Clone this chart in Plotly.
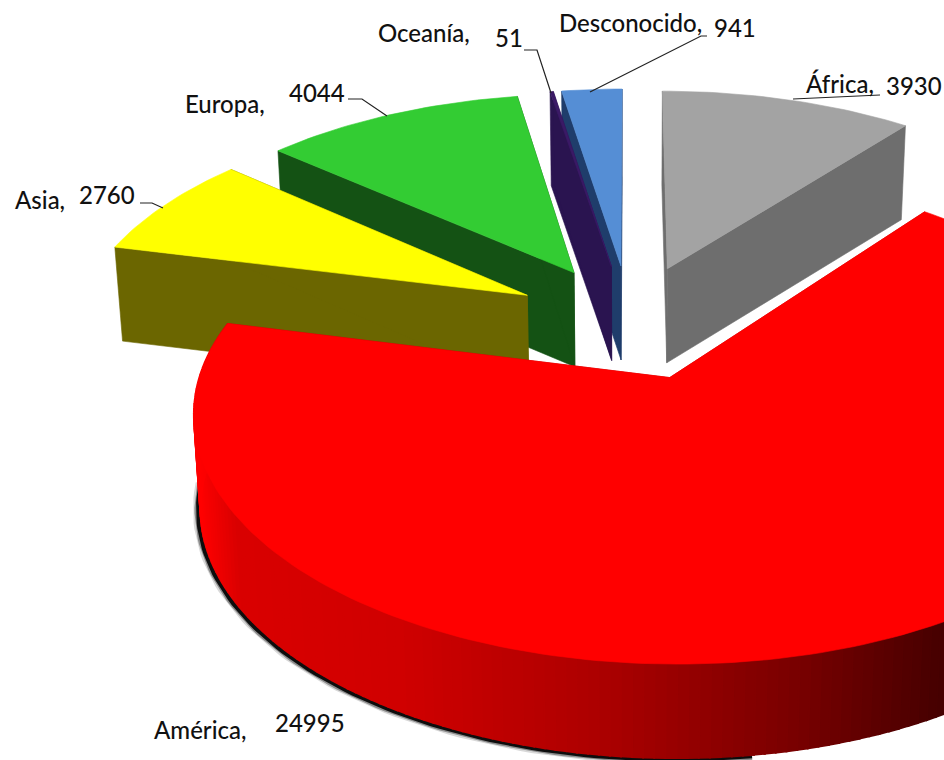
import math
import plotly.graph_objects as go

# Data (clockwise from 12 o'clock)
regions = ["África", "América", "Asia", "Europa", "Oceanía", "Desconocido"]
counts = [3930, 24995, 2760, 4044, 51, 941]
top_colors = ["#a3a3a3", "#ff0000", "#ffff00", "#33cc33", "#3b1a66", "#558ed5"]
side_colors = ["#6e6e6e", "#c00000", "#6b6600", "#145214", "#2a1450", "#1f3d6b"]
draw_order = ["África", "Desconocido", "Oceanía", "Europa", "Asia", "América"]

# Projection of the tilted pie onto the page
CX, CY, F, G, K = 630, 321, 452, 221, 0.1585
EXPLODE = 0.26
THICK = 94
SHRINK = 0.985


def project(X, Y):
    w = 1 + K * Y
    return CX + F * X / w, CY - G * Y / w


def bottom(p):
    return CX + (p[0] - CX) * SHRINK, p[1] + THICK


total = sum(counts)
fig = go.Figure()


def poly(points, color, lw=0.6):
    xs = [p[0] for p in points] + [points[0][0]]
    ys = [p[1] for p in points] + [points[0][1]]
    fig.add_trace(go.Scatter(x=xs, y=ys, mode="lines", fill="toself", fillcolor=color,
                             line=dict(color=color, width=lw), hoverinfo="skip",
                             showlegend=False))


def rim_shade(x):
    stops = [(196, (255, 0, 0)), (235, (218, 0, 0)), (400, (208, 0, 0)), (600, (172, 0, 0)),
             (800, (120, 0, 0)), (944, (70, 0, 0))]
    if x <= stops[0][0]:
        return "rgb(255,0,0)"
    for (x0, c0), (x1, c1) in zip(stops, stops[1:]):
        if x <= x1:
            t = (x - x0) / (x1 - x0)
            return "rgb(%d,%d,%d)" % tuple(a + (b - a) * t for a, b in zip(c0, c1))
    return "rgb(70,0,0)"


spans = {}
a = 0.0
for name, value in zip(regions, counts):
    b = a + 2 * math.pi * value / total
    spans[name] = (a, b)
    a = b

for name in draw_order:
    i = regions.index(name)
    a0, a1 = spans[name]
    mid = (a0 + a1) / 2
    ox, oy = EXPLODE * math.sin(mid), EXPLODE * math.cos(mid)
    n = max(2, int((a1 - a0) / 0.02))
    angles = [a0 + (a1 - a0) * j / n for j in range(n + 1)]
    rim = [project(ox + math.sin(t), oy + math.cos(t)) for t in angles]
    apex = project(ox, oy)
    # cut faces
    poly([apex, rim[0], bottom(rim[0]), bottom(apex)], side_colors[i])
    poly([apex, rim[-1], bottom(rim[-1]), bottom(apex)], side_colors[i])
    # outer wall, front half only
    if name == "América":
        wall_low = [bottom(p) for p in rim]
        front = [j for j, t in enumerate(angles) if math.cos(t) < 0.25]
        shadow = [p for p in wall_low if p[1] > 480 and p[0] < 760]
        for width, alpha in [(11, 0.15), (8, 0.35), (5, 0.9)]:
            fig.add_trace(go.Scatter(x=[p[0] - 2 for p in shadow], y=[p[1] + 1 for p in shadow],
                                     mode="lines", opacity=alpha,
                                     line=dict(color="#000000", width=width),
                                     hoverinfo="skip", showlegend=False))
        for j in front[:-1]:
            seg = [rim[j], rim[j + 1], wall_low[j + 1], wall_low[j]]
            poly(seg, rim_shade((rim[j][0] + rim[j + 1][0]) / 2), lw=2)
    poly([apex] + rim, top_colors[i])

labels = [
    ("Oceanía,", 424, 32), ("51", 509, 37), ("Desconocido,", 630, 22), ("941", 735, 27),
    ("África,", 840, 83), ("3930", 914, 85), ("Europa,", 225, 103), ("4044", 317, 92),
    ("Asia,", 40, 199), ("2760", 107, 194), ("América,", 200, 729), ("24995", 310, 722),
]
for text, x, y in labels:
    fig.add_annotation(x=x, y=y, text=text, showarrow=False, xanchor="center", yanchor="middle",
                       font=dict(family="Lato", size=24, color="#111111", weight=500))

leaders = [
    [(524, 50), (537, 50), (551, 93)],
    [(707, 36), (701, 36), (590, 92)],
    [(793, 99), (860, 96), (880, 95)],
    [(348, 99), (362, 99), (387, 116)],
    [(140, 203), (152, 203), (163, 208)],
]
for pts in leaders:
    fig.add_trace(go.Scatter(x=[p[0] for p in pts], y=[p[1] for p in pts], mode="lines",
                             line=dict(color="#222222", width=1.2), hoverinfo="skip",
                             showlegend=False))

fig.update_layout(
    width=944, height=760, margin=dict(l=0, r=0, t=0, b=0),
    paper_bgcolor="white", plot_bgcolor="white", showlegend=False,
    xaxis=dict(range=[0, 944], visible=False, fixedrange=True),
    yaxis=dict(range=[760, 0], visible=False, fixedrange=True),
)
fig.write_html("out.html", config={"displayModeBar": False},
               post_script="document.body.style.margin='0';document.body.style.overflow='hidden';")
